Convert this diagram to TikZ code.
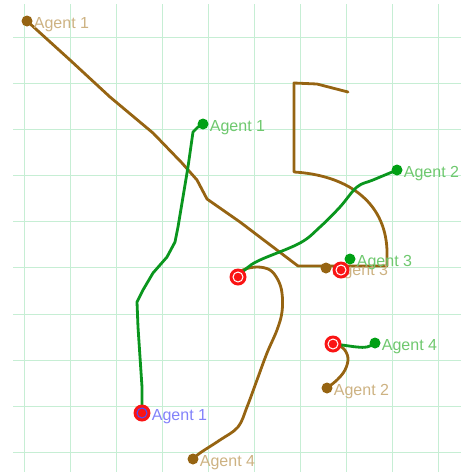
\documentclass[tikz,border=0pt]{standalone}
\usepackage{fontspec}
\setmainfont{Liberation Sans}
\usetikzlibrary{positioning}
\definecolor{gridc}{RGB}{198,238,212}
\definecolor{trackb}{RGB}{150,100,18}
\definecolor{trackg}{RGB}{10,150,30}
\definecolor{dotg}{RGB}{0,160,20}
\definecolor{labb}{RGB}{205,178,130}
\definecolor{labg}{RGB}{110,200,110}
\definecolor{labblue}{RGB}{130,130,250}
\definecolor{goalr}{RGB}{250,20,20}
\tikzset{
	dot/.style={circle,fill=#1,inner sep=0pt,minimum size=11pt},
	tag/.style={text=#1,inner sep=1pt,font=\fontsize{16}{18}\selectfont,yshift=-4pt},
	goal/.style={circle,fill=goalr,inner sep=0pt,minimum size=17pt,
		path picture={\draw[#1,line width=1pt] (path picture bounding box.center) circle (5pt);}},
	track/.style={line width=2.8pt,draw=#1,line join=round,line cap=round}
}
\begin{document}
\begin{tikzpicture}[x=1pt,y=-1pt]
	\useasboundingbox (0,0) rectangle (461,472);
	% grid
	\foreach \i in {0,...,9}{
		\draw[gridc,line width=1pt] (24.5+46.05*\i,4)--(24.5+46.05*\i,472);
		\draw[gridc,line width=1pt] (13,37.7+46.05*\i)--(461,37.7+46.05*\i);
	}
	% start and goal points
	\coordinate (m1) at (238,277);
	\coordinate (m2) at (341,270);
	\coordinate (m3) at (333,344);
	\coordinate (m4) at (142,413);
	\coordinate (b1) at (27,21);
	\coordinate (b2) at (327,388);
	\coordinate (b3) at (326,268);
	\coordinate (b4) at (193,459);
	\coordinate (g1) at (203,124);
	\coordinate (g2) at (397,170);
	\coordinate (g3) at (350,259);
	\coordinate (g4) at (375,343);
	% brown tracks
	\draw[track=trackb] (b1)--(70,60)--(110,97)--(153,133)--(182,163)--(197,180)--(207,199)
		--(240,222)--(298,266)--(387,266)--(387,250) .. controls (385,200) and (345,175) .. (294,172)
		--(294,83)--(317,84)--(348,92);
	\draw[track=trackb] plot[smooth,tension=0.6] coordinates {(m1) (243,270) (257,267) (270,270) (278,280)
		(282,293) (282,312) (277,330) (267,353) (257,380) (247,407) (238,427) (220,440) (200,453) (b4)};
	\draw[track=trackb] plot[smooth,tension=0.6] coordinates {(m3) (343,348) (348,358) (345,370) (337,380) (b2)};
	% green tracks
	\draw[track=trackg] (m4)--(142,387)--(140,357)--(138,327)--(137,302)--(143,290)--(153,273)
		--(167,257)--(175,242)--(178,227)--(183,197)--(188,167)--(193,132)--(198,127)--(g1);
	\draw[track=trackg] plot[smooth,tension=0.6] coordinates {(m1) (247,268) (260,260) (300,243) (320,227)
		(340,207) (357,187) (373,180) (g2)};
	\draw[track=trackg] plot[smooth,tension=0.6] coordinates {(m3) (342,345) (357,347) (367,347) (g4)};
	% brown agents
	\foreach \n/\t in {b1/1,b2/2,b3/3,b4/4}{
		\node[dot=trackb] (d\n) at (\n) {};
		\node[tag=labb,right=0pt of d\n] (l\n) {Agent \t};
	}
	% goals
	\foreach \n in {m1,m2,m3}
		\node[goal=white] (o\n) at (\n) {};
	\node[goal=blue!70] (om4) at (m4) {};
	\node[tag=labblue,right=0pt of om4] (lm4) {Agent 1};
	% green agents
	\foreach \n/\t in {g1/1,g2/2,g3/3,g4/4}{
		\node[dot=dotg] (d\n) at (\n) {};
		\node[tag=labg,right=0pt of d\n] (l\n) {Agent \t};
	}
\end{tikzpicture}
\end{document}
